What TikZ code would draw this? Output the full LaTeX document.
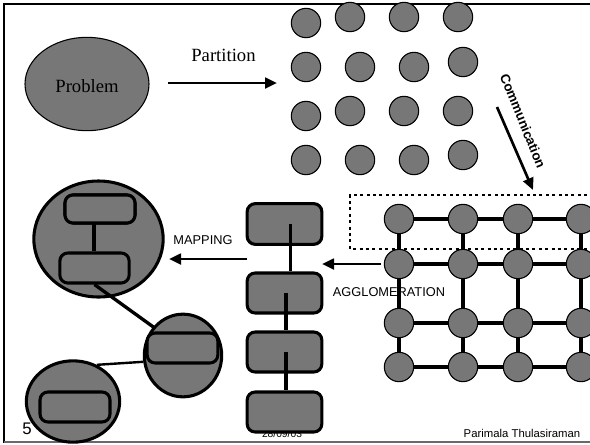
\documentclass[tikz,border=0pt]{standalone}
\usepackage{fontspec}
\setmainfont{Liberation Serif}
\setsansfont{Liberation Sans}
\usetikzlibrary{arrows.meta,shapes.geometric}
\definecolor{cellgray}{RGB}{119,119,119}
\definecolor{rulegray}{RGB}{105,105,105}

\begin{document}
\begin{tikzpicture}[x=0.75pt,y=-0.75pt,
  grain/.style={circle,draw=black,line width=0.8pt,fill=cellgray,minimum size=22pt,inner sep=0pt},
  blk/.style={rectangle,rounded corners=6pt,draw=black,line width=2.3pt,fill=cellgray,inner sep=0pt},
  proc/.style={ellipse,draw=black,line width=2.3pt,fill=cellgray,inner sep=0pt},
  link/.style={line width=2.5pt},
  flow/.style={line width=2pt,-{Triangle[length=9pt,width=8pt]}},
  serif label/.style={font=\rmfamily\fontsize{14}{16}\selectfont,inner sep=0pt},
  sans label/.style={font=\sffamily\fontsize{9.6}{11}\selectfont,inner sep=0pt}]
\useasboundingbox (0,0) rectangle (590,444);
\clip (0,0) rectangle (590,444);
\fill[white] (0,0) rectangle (590,444);

% slide frame
\draw[line width=1.8pt] (4,443) -- (4,4) -- (592,4);
\draw[rulegray,line width=1.6pt] (4,442) -- (592,442);

% the problem and its partition into fine-grained tasks
\node[ellipse,draw=black,line width=0.8pt,fill=cellgray,minimum width=93pt,minimum height=70pt,inner sep=0pt] (problem) at (87,84) {};
\node[serif label] (problemtext) at (87,86) {Problem};
\node[serif label] (partlabel) at (223.5,55) {Partition};
\coordinate (partStart) at (168,83);
\coordinate (partEnd) at (277,83);
\draw[flow] (partStart) -- (partEnd);

\foreach \i/\x/\y in {11/306/23,12/350/17,13/404/17,14/458/17,
                      21/306/67,22/360/67,23/414/67,24/463/62,
                      31/306/116,32/350/111,33/404/111,34/458/111,
                      41/306/160,42/360/160,43/414/160,44/463/155}
  \node[grain] (p\i) at (\x,\y) {};

% communication step
\node[font=\sffamily\bfseries\fontsize{10}{11}\selectfont,inner sep=0pt,rotate=-68] (commlabel) at (523,121) {Communication};
\coordinate (commStart) at (497,107);
\coordinate (commEnd) at (533,190);
\draw[flow] (commStart) -- (commEnd);

% mesh of communicating tasks
\coordinate (edgeR) at (610,0);
\foreach \r/\y in {1/219,2/264,3/323,4/367}
  \foreach \c/\x in {1/399,2/463,3/518,4/581}
    \coordinate (q\r\c) at (\x,\y);
\foreach \r in {1,2,3,4}
  \draw[link] (q\r1) -- (q\r4) -- (q\r4 -| edgeR);
\foreach \c in {1,2,3,4}
  \draw[link] (q1\c) -- (q4\c);
\foreach \r in {1,2,3,4}
  \foreach \c in {1,2,3,4}
    \node[grain] (m\r\c) at (q\r\c) {};
\draw[line width=2.2pt,dash pattern=on 2.2pt off 2.6pt] (600,195) -- (350,195) -- (350,249) -- (600,249);

% agglomeration into coarse tasks
\coordinate (aggStart) at (381,264);
\coordinate (aggEnd) at (322,264);
\draw[flow] (aggStart) -- (aggEnd);
\node[sans label] (agglabel) at (389,292) {AGGLOMERATION};

\node[sans label,font=\sffamily\fontsize{7.7}{9}\selectfont] (datelabel) at (282,434) {28/09/03};

\node[blk,minimum width=56pt,minimum height=30.5pt] (k1) at (284.5,224) {};
\node[blk,minimum width=56pt,minimum height=30pt] (k2) at (284.5,293) {};
\node[blk,minimum width=56pt,minimum height=30pt] (k3) at (284.5,352) {};
\node[blk,minimum width=56pt,minimum height=30pt] (k4) at (284.5,412) {};
\draw[link] ([xshift=4.5pt]k1.center) -- ([xshift=4.5pt]k2.north);
\draw[link] ([xshift=1pt]k2.center) -- ([xshift=1pt]k3.north);
\draw[link] ([xshift=1pt]k3.center) -- ([xshift=1pt]k4.north);

% mapping onto processors
\coordinate (mapStart) at (247,259);
\coordinate (mapEnd) at (169,259);
\draw[flow] (mapStart) -- (mapEnd);
\node[sans label] (maplabel) at (203,240) {MAPPING};

\node[proc,minimum width=97pt,minimum height=87pt] (c1) at (98.5,239) {};
\node[blk,minimum width=52.5pt,minimum height=21pt] (bA) at (100,209) {};
\node[blk,minimum width=52pt,minimum height=22.5pt] (bB) at (94.5,268) {};
\draw[link] ([xshift=-0.5pt]bB.north) -- ([xshift=-0.5pt]bB.north |- bA.center);
\node[blk,minimum width=52.5pt,minimum height=21pt] at (bA) {};
\draw[link] (bB.south) -- (182.5,348);
\node[proc,minimum width=58pt,minimum height=62pt] (c2) at (183,355.5) {};
\node[blk,minimum width=53pt,minimum height=22.5pt] (bC) at (182.5,348) {};
\node[proc,minimum width=70pt,minimum height=61pt] (c3) at (73,401.5) {};
\node[blk,minimum width=52.5pt,minimum height=22.5pt] (bD) at (75,407) {};
\draw[line width=1.8pt] (c2.189) -- (c3.57);

% footer
\node[sans label,font=\sffamily\fontsize{12.6}{14}\selectfont] (pagenum) at (27,429) {5};
\node[sans label,font=\sffamily\fontsize{8.5}{10}\selectfont] (author) at (522,433) {Parimala Thulasiraman};
\end{tikzpicture}
\end{document}
